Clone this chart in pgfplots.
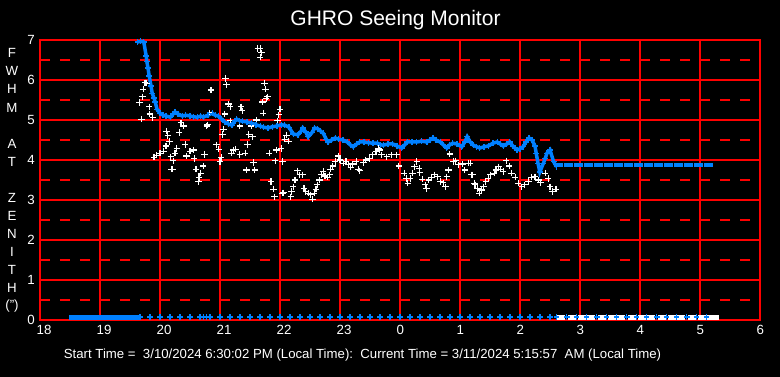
\documentclass[border=0pt]{standalone}
\usepackage{pgfplots}
\pgfplotsset{compat=1.18}
\usepackage{fontspec}
\setmainfont{Liberation Sans}
\usetikzlibrary{plotmarks}
\definecolor{cblue}{RGB}{0,128,255}
\begin{document}
\begin{tikzpicture}
\fill[black] (-40pt,-57pt) rectangle (740pt,320pt);
\begin{axis}[
  at={(0pt,0pt)}, anchor=south west,
  scale only axis, width=720pt, height=280pt,
  xmin=18, xmax=30, ymin=0, ymax=7,
  clip=false,
  axis line style={draw=red, line width=1.5pt},
  xtick={18,19,20,21,22,23,24,25,26,27,28,29,30},
  xticklabels={18,19,20,21,22,23,0,1,2,3,4,5,6},
  ytick={0,1,2,3,4,5,6,7},
  yticklabels={0,1,2,3,4,5,6,7},
  minor ytick={0.5,1.5,2.5,3.5,4.5,5.5,6.5},
  xmajorgrids, ymajorgrids, yminorgrids,
  major grid style={draw=red, line width=1.5pt, solid},
  minor grid style={draw=red, line width=1.5pt, dash pattern=on 10pt off 10pt},
  major tick length=0pt, minor tick length=0pt,
  every tick label/.append style={font=\fontsize{13.3}{16}\selectfont, text=white, inner sep=0pt},
  xticklabel style={anchor=north west, xshift=-3.5pt, yshift=-5pt},
  yticklabel style={anchor=east, xshift=-5pt},
]
% bottom bar (blue, 0 values)
\addplot[only marks, cblue, mark=-, mark size=5pt, line width=5pt, mark options={yshift=2.5pt}] coordinates {
(18.57,0) (18.73,0) (18.90,0) (19.07,0) (19.23,0) (19.40,0) (19.57,0)};
% bottom bar (white, 0 values)
\addplot[only marks, white, mark=-, mark size=4pt, line width=5pt, mark options={yshift=2.5pt}] coordinates {
(26.69,0) (26.86,0) (27.03,0) (27.19,0) (27.36,0) (27.53,0) (27.69,0) (27.86,0)
(28.03,0) (28.19,0) (28.36,0) (28.53,0) (28.69,0) (28.86,0) (29.03,0) (29.19,0) (29.25,0)};
% blue pluses at 0
\addplot[only marks, cblue, mark=+, mark size=2.8pt, mark options={line width=1.1pt, yshift=3pt}] coordinates {
(19.667,0) (19.833,0) (20.0,0) (20.167,0) (20.333,0) (20.5,0) (20.667,0) (20.72,0) (20.78,0)
(20.833,0) (21.0,0) (21.167,0) (21.333,0) (21.5,0) (21.667,0) (21.833,0) (22.0,0)
(22.167,0) (22.333,0) (22.5,0) (22.667,0) (22.833,0) (23.0,0) (23.167,0) (23.333,0)
(23.5,0) (23.667,0) (23.833,0) (24.0,0) (24.167,0) (24.333,0) (24.5,0) (24.667,0)
(24.833,0) (25.0,0) (25.167,0) (25.333,0) (25.5,0) (25.667,0) (25.833,0) (26.0,0)
(26.167,0) (26.333,0) (26.5,0)
(26.61,0) (26.78,0) (26.94,0) (27.11,0) (27.28,0) (27.44,0) (27.61,0) (27.78,0)
(27.94,0) (28.11,0) (28.28,0) (28.44,0) (28.61,0) (28.78,0) (28.94,0) (29.11,0)};
% white scatter
\addplot[only marks, white, mark=+, mark size=3.2pt, mark options={line width=1.2pt}] coordinates {
(19.66,5.44) (19.69,5.02) (19.71,5.58) (19.72,5.77) (19.75,5.93) (19.78,5.92)
(19.82,5.33) (19.83,5.15) (19.88,5.06) (19.90,4.07) (19.94,4.12) (20.00,4.17)
(20.06,4.22) (20.10,4.35) (20.11,4.72) (20.13,4.61) (20.16,4.46) (20.18,4.08)
(20.19,3.77) (20.21,3.77) (20.22,3.98) (20.25,4.17) (20.28,4.29) (20.32,4.69)
(20.35,4.93) (20.39,4.85) (20.42,4.39) (20.44,4.10) (20.50,4.22) (20.56,4.25)
(20.57,4.04) (20.60,3.77) (20.64,3.46) (20.65,3.56) (20.68,3.67) (20.72,3.85)
(20.74,4.14) (20.78,4.85) (20.79,4.88) (20.83,5.18) (20.85,5.75) (20.94,4.38)
(20.98,4.27) (21.00,3.96) (21.02,4.06) (21.04,4.64) (21.06,4.77) (21.08,5.15)
(21.09,6.04) (21.11,5.88) (21.14,5.40) (21.17,5.33) (21.17,4.98) (21.19,4.17)
(21.22,4.25) (21.26,4.27) (21.33,4.14) (21.33,4.85) (21.35,5.33) (21.37,5.23)
(21.42,4.17) (21.44,3.75) (21.46,4.39) (21.48,4.64) (21.52,4.85) (21.54,4.58)
(21.56,3.94) (21.58,3.75) (21.61,5.00) (21.63,6.79) (21.67,6.79) (21.69,6.68)
(21.67,6.57) (21.71,5.45) (21.72,5.17) (21.74,5.92) (21.76,5.77) (21.77,5.54)
(21.79,5.58) (21.82,4.17) (21.85,3.46) (21.89,3.27) (21.91,3.08) (21.92,3.98)
(21.94,4.25) (21.96,4.98) (21.98,5.13) (22.00,5.27) (22.02,4.29) (22.04,3.96)
(22.04,3.17) (22.06,3.18) (22.08,4.52) (22.11,4.62) (22.14,4.47) (22.18,3.08)
(22.19,3.21) (22.22,3.33) (22.25,3.50) (22.29,3.73) (22.33,3.63) (22.38,3.63)
(22.40,3.29) (22.43,3.21) (22.47,3.17) (22.51,3.13) (22.54,3.02) (22.57,3.17)
(22.60,3.27) (22.62,3.38) (22.66,3.50) (22.69,3.63) (22.72,3.71) (22.75,3.60)
(22.79,3.57) (22.83,3.63) (22.84,3.77) (22.88,3.85) (22.92,3.96) (22.97,4.10)
(23.00,4.00) (23.06,3.92) (23.10,3.96) (23.14,3.88) (23.18,3.82) (23.21,3.90)
(23.27,3.96) (23.31,3.77) (23.33,3.73) (23.39,3.93) (23.43,4.00) (23.49,4.04)
(23.54,4.13) (23.60,4.21) (23.64,4.29) (23.66,4.25) (23.69,4.13) (23.78,4.08)
(23.86,4.13) (23.94,4.13) (23.98,3.85) (24.07,3.67) (24.11,3.54) (24.13,3.42)
(24.17,3.54) (24.21,3.67) (24.24,3.83) (24.28,3.96) (24.32,3.79) (24.33,3.68)
(24.37,3.52) (24.42,3.38) (24.44,3.29) (24.48,3.50) (24.53,3.57) (24.58,3.63)
(24.63,3.58) (24.67,3.46) (24.72,3.43) (24.76,3.33) (24.78,3.58) (24.81,3.75)
(24.83,4.15) (24.89,3.96) (24.93,3.98) (24.97,3.88) (25.04,3.90) (25.08,3.75)
(25.14,3.92) (25.17,3.92) (25.19,3.63) (25.21,3.63) (25.24,3.42) (25.25,3.38)
(25.29,3.29) (25.32,3.17) (25.36,3.25) (25.39,3.33) (25.43,3.46) (25.47,3.54)
(25.51,3.63) (25.57,3.67) (25.60,3.75) (25.64,3.83) (25.68,3.77) (25.72,3.71)
(25.77,3.98) (25.82,3.85) (25.86,3.67) (25.92,3.57) (25.97,3.42) (26.03,3.33)
(26.08,3.38) (26.14,3.46) (26.19,3.57) (26.25,3.58) (26.31,3.50) (26.34,3.43)
(26.42,3.67) (26.47,3.54) (26.50,3.33) (26.54,3.21) (26.60,3.27)};
% blue main series
\addplot[cblue, line width=3.5pt, mark=+, mark size=3pt, mark options={line width=1.3pt}] coordinates {
(19.63,6.95) (19.68,6.97) (19.73,6.95) (19.77,6.60) (19.78,6.47) (19.80,6.30)
(19.82,6.10) (19.85,5.85) (19.87,5.67) (19.90,5.55) (19.92,5.45) (19.95,5.27)
(20.00,5.17) (20.05,5.12) (20.10,5.10) (20.17,5.07) (20.22,5.15) (20.25,5.20)
(20.30,5.15) (20.37,5.10) (20.43,5.12) (20.50,5.10) (20.56,5.08) (20.62,5.07)
(20.68,5.10) (20.72,5.07) (20.80,5.12) (20.87,5.17) (20.92,5.12) (20.97,5.10)
(21.02,5.03) (21.08,4.95) (21.14,4.90) (21.20,4.87) (21.25,4.98) (21.28,5.02)
(21.33,4.98) (21.38,4.97) (21.45,4.95) (21.53,4.92) (21.60,4.88) (21.67,4.85)
(21.73,4.82) (21.80,4.80) (21.87,4.83) (21.95,4.85) (22.02,4.88) (22.08,4.87)
(22.15,4.82) (22.22,4.65) (22.30,4.63) (22.35,4.72) (22.38,4.80) (22.43,4.70)
(22.47,4.58) (22.53,4.68) (22.58,4.80) (22.63,4.78) (22.68,4.72) (22.72,4.67)
(22.77,4.52) (22.80,4.45) (22.86,4.50) (22.92,4.55) (22.98,4.52) (23.05,4.50)
(23.12,4.45) (23.17,4.38) (23.22,4.33) (23.28,4.40) (23.33,4.45) (23.40,4.45)
(23.48,4.43) (23.55,4.42) (23.62,4.42) (23.68,4.38) (23.72,4.37) (23.80,4.40)
(23.88,4.40) (23.95,4.35) (24.03,4.30) (24.08,4.38) (24.12,4.45) (24.20,4.45)
(24.28,4.45) (24.36,4.47) (24.45,4.45) (24.50,4.50) (24.55,4.55) (24.60,4.50)
(24.67,4.45) (24.72,4.38) (24.78,4.30) (24.83,4.38) (24.88,4.42) (24.95,4.40)
(25.03,4.33) (25.08,4.45) (25.12,4.58) (25.17,4.45) (25.22,4.37) (25.28,4.33)
(25.33,4.30) (25.40,4.33) (25.47,4.35) (25.55,4.42) (25.62,4.45) (25.67,4.40)
(25.72,4.35) (25.78,4.40) (25.83,4.45) (25.88,4.35) (25.95,4.25) (26.00,4.28)
(26.05,4.33) (26.10,4.45) (26.15,4.55) (26.20,4.50) (26.25,4.35) (26.27,4.17)
(26.30,3.92) (26.33,3.70) (26.39,3.92) (26.42,4.04) (26.45,4.17) (26.50,4.25)
(26.56,3.96) (26.61,3.83)};
% blue flat series
\addplot[only marks, cblue, mark=-, mark size=4.5pt, line width=4.5pt] coordinates {
(26.642,3.875) (26.808,3.875) (26.975,3.875) (27.142,3.875) (27.308,3.875)
(27.475,3.875) (27.642,3.875) (27.808,3.875) (27.975,3.875) (28.142,3.875)
(28.308,3.875) (28.475,3.875) (28.642,3.875) (28.808,3.875) (28.975,3.875)
(29.142,3.875)};
\end{axis}
\node[text=white, font=\fontsize{21}{25}\selectfont] at (355.5pt,300pt) {GHRO Seeing Monitor};
\node[text=white, font=\fontsize{13.2}{16}\selectfont] at (322.5pt,-35pt)
  {Start Time =\ \ 3/10/2024 6:30:02 PM (Local Time):\ \ Current Time = 3/11/2024 5:15:57\ \ AM (Local Time)};
\foreach \t/\yy in {F/266.7, W/248.65, H/230.6, M/212.55, A/176.45, T/158.4, Z/122.3, E/104.25, N/86.2, I/68.15, T/50.1, H/32.05}
  \node[text=white, inner sep=0pt, font=\fontsize{13.3}{16}\selectfont] at (-28pt,\yy pt) {\t};
\node[text=white, inner sep=0pt, font=\fontsize{13.3}{16}\selectfont] at (-28pt,14pt) {(")};
\pgfresetboundingbox
\useasboundingbox (-40pt,-57pt) rectangle (740pt,320pt);
\end{tikzpicture}
\end{document}
